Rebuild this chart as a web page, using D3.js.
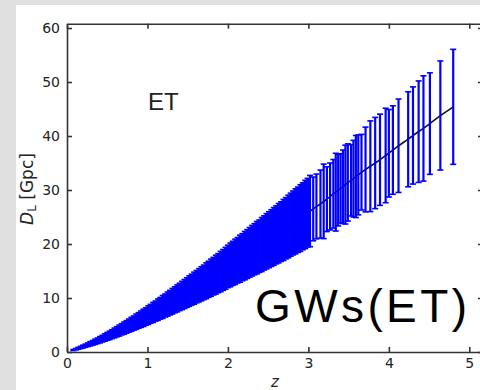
<!DOCTYPE html>
<html><head><meta charset="utf-8">
<script src="https://cdn.jsdelivr.net/npm/d3@7"></script>
<style>body{margin:0;background:#e0e0e0}svg{display:block}
.ax text{font-family:"DejaVu Sans",sans-serif;font-size:14px;fill:#222}
.ax path,.ax line{stroke:#333;stroke-width:1.6}
</style></head><body>
<svg id="c" width="480" height="390"></svg>
<script>
// redshift of each simulated ET event
const z = [0.08,0.11,0.14,0.17,0.20,0.23,0.26,0.29,0.32,0.35,0.38,0.41,0.44,0.47,0.50,0.53,0.56,0.59,0.62,0.65,0.68,0.71,0.74,0.77,0.80,0.83,0.86,0.89,0.92,0.95,0.98,1.01,1.04,1.07,1.10,1.13,1.16,1.19,1.22,1.25,1.28,1.31,1.34,1.37,1.40,1.43,1.46,1.49,1.52,1.55,1.58,1.61,1.64,1.67,1.70,1.73,1.76,1.79,1.82,1.85,1.88,1.91,1.94,1.97,2.00,2.03,2.06,2.09,2.12,2.15,2.18,2.21,2.24,2.27,2.30,2.33,2.36,2.39,2.42,2.45,2.48,2.51,2.54,2.57,2.60,2.63,2.66,2.69,2.72,2.75,2.78,2.81,2.84,2.87,2.90,2.93,2.96,2.99,
  3.02,3.06,3.10,3.15,3.19,3.23,3.27,3.31,3.34,3.37,3.40,3.43,3.46,3.49,3.53,3.56,3.59,3.62,3.66,3.71,3.77,3.83,3.89,3.96,4.00,4.05,4.12,4.24,4.30,4.37,4.43,4.51,4.64,4.80];
// luminosity distance D_L [Gpc]
const dl = [0.37,0.52,0.68,0.84,1.00,1.17,1.35,1.52,1.70,1.89,2.08,2.27,2.47,2.68,2.89,3.09,3.30,3.53,3.75,3.97,4.20,4.43,4.65,4.89,5.12,5.36,5.60,5.84,6.08,6.32,6.57,6.82,7.08,7.33,7.58,7.84,8.10,8.35,8.61,8.88,9.14,9.40,9.67,9.93,10.2,10.47,10.74,11.01,11.28,11.55,11.82,12.09,12.36,12.63,12.9,13.19,13.47,13.76,14.04,14.33,14.61,14.9,15.2,15.5,15.85,16.13,16.42,16.7,16.99,17.28,17.56,17.85,18.15,18.45,18.75,19.04,19.32,19.6,19.9,20.2,20.5,20.8,21.1,21.4,21.7,22.0,22.3,22.6,22.92,23.25,23.58,23.9,24.2,24.5,24.8,25.13,25.47,25.8,
  26.1,26.5,26.95,27.4,27.9,28.3,28.8,29.3,29.6,30.0,30.3,30.6,31.0,31.4,31.8,32.1,32.5,32.8,33.3,33.8,34.4,35.0,35.6,36.4,36.8,37.4,38.2,39.4,40.1,40.8,41.4,42.3,43.8,45.4];
// 1-sigma error on D_L [Gpc]
const err = [0.10,0.13,0.17,0.21,0.26,0.29,0.34,0.39,0.42,0.48,0.52,0.58,0.61,0.68,0.72,0.79,0.82,0.90,0.93,1.02,1.04,1.13,1.16,1.22,1.30,1.31,1.42,1.45,1.52,1.60,1.62,1.73,1.74,1.85,1.86,1.98,2.00,2.12,2.13,2.24,2.27,2.37,2.40,2.50,2.53,2.62,2.68,2.74,2.82,2.86,2.97,3.00,3.08,3.16,3.20,3.32,3.34,3.45,3.48,3.60,3.62,3.74,3.78,3.88,3.93,4.05,4.08,4.20,4.22,4.35,4.36,4.48,4.52,4.60,4.68,4.74,4.85,4.86,5.00,5.02,5.12,5.18,5.25,5.35,5.38,5.50,5.52,5.65,5.68,5.80,5.84,5.92,6.02,6.05,6.18,6.20,6.32,6.36,
  6.6,5.9,6.0,6.3,6.9,6.0,6.2,6.35,7.2,6.65,6.4,6.8,7.3,7.15,6.6,7.1,7.6,7.4,7.0,7.85,8.4,8.45,8.45,8.75,8.1,8.2,8.65,8.8,9.0,9.4,9.75,9.4,10.1,10.65];
const xTicks = [0,1,2,3,4,5];
const yTicks = [0,10,20,30,40,50,60];

const svg = d3.select('#c');
svg.append('rect').attr('x',16).attr('y',5).attr('width',470).attr('height',390).attr('fill','#fff');

const x = d3.scaleLinear().domain([0,5.17]).range([67,483]);
const y = d3.scaleLinear().domain([0,60.8]).range([352,23.7]);

const pts = z.map((v,i)=>({z:v,d:dl[i],e:err[i]})).sort((a,b)=>a.z-b.z);

// fiducial line
svg.append('path').datum(pts)
  .attr('fill','none').attr('stroke','#111').attr('stroke-width',1.6)
  .attr('d', d3.line().curve(d3.curveBasis).x(p=>x(p.z)).y(p=>y(p.d)));

const g = svg.append('g').attr('stroke','#0000ff');
g.selectAll('line.v').data(pts).join('line').attr('class','v')
  .attr('stroke-width',p=>p.z<3?3.2:2.2)
  .attr('x1',p=>x(p.z)).attr('x2',p=>x(p.z))
  .attr('y1',p=>y(p.d-p.e)).attr('y2',p=>y(p.d+p.e));
g.selectAll('line.t').data(pts).join('line').attr('class','t').attr('stroke-width',1.6)
  .attr('x1',p=>x(p.z)-3).attr('x2',p=>x(p.z)+3)
  .attr('y1',p=>y(p.d+p.e)).attr('y2',p=>y(p.d+p.e));
g.selectAll('line.b').data(pts).join('line').attr('class','b').attr('stroke-width',1.6)
  .attr('x1',p=>x(p.z)-3).attr('x2',p=>x(p.z)+3)
  .attr('y1',p=>y(p.d-p.e)).attr('y2',p=>y(p.d-p.e));

// axes / frame
svg.append('g').attr('class','ax').attr('transform','translate(0,352)')
  .call(d3.axisBottom(x).tickValues(xTicks).tickFormat(d3.format('d')).tickSizeInner(-5).tickSizeOuter(0).tickPadding(6));
svg.append('g').attr('class','ax').attr('transform','translate(67,0)')
  .call(d3.axisLeft(y).tickValues(yTicks).tickFormat(d3.format('d')).tickSizeInner(-5).tickSizeOuter(0).tickPadding(7));
svg.append('g').attr('class','ax').attr('transform','translate(0,23.7)')
  .call(d3.axisTop(x).tickValues(xTicks).tickFormat('').tickSizeInner(-5).tickSizeOuter(0));
svg.append('g').attr('class','ax').attr('transform','translate(483,0)')
  .call(d3.axisRight(y).tickValues(yTicks).tickFormat('').tickSizeInner(-5).tickSizeOuter(0));

// labels
svg.append('text').attr('x',275).attr('y',387).attr('text-anchor','middle')
  .attr('font-family','DejaVu Sans').attr('font-style','italic').attr('font-size',15).attr('fill','#222').text('z');
const yl = svg.append('text').attr('transform','translate(33,189) rotate(-90)').attr('text-anchor','middle')
  .attr('font-family','DejaVu Sans').attr('font-size',17).attr('fill','#222');
yl.append('tspan').attr('font-style','italic').text('D');
yl.append('tspan').attr('font-size',12).attr('dy',3).text('L');
yl.append('tspan').attr('dy',-3).text(' [Gpc]');

svg.append('text').attr('x',148).attr('y',110).attr('font-family','Liberation Sans, Arial').attr('font-size',24).attr('fill','#222').text('ET');
svg.append('text').attr('x',255).attr('y',322).attr('font-family','Liberation Sans, Arial').attr('font-size',46).attr('letter-spacing','3.4px').attr('fill','#000').text('GWs(ET)');
</script></body></html>
